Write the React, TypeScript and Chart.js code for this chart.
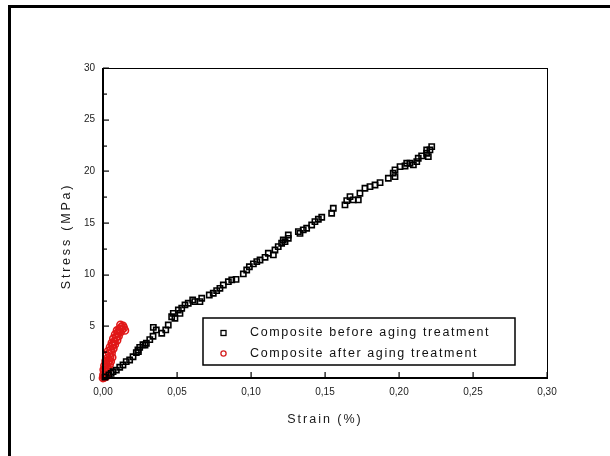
import React, { useEffect, useRef } from "react";
import { Chart, registerables } from "chart.js";

Chart.register(...registerables);

const seriesNames = ["Composite before aging treatment", "Composite after aging treatment"];
const xTickValues = [0, 0.05, 0.1, 0.15, 0.2, 0.25, 0.3];
const yTickValues = [0, 5, 10, 15, 20, 25, 30];
const xTitle = "Strain (%)";
const yTitle = "Stress (MPa)";

// Composite before aging treatment: [strain, stress]
const beforeStrain = [
  0.0014, 0.004, 0.0055, 0.0068, 0.009, 0.0113, 0.0135, 0.0157, 0.018, 0.0203, 0.0225, 0.0236, 0.0239, 0.0248,
  0.027, 0.0284, 0.0293, 0.0316, 0.0338, 0.034, 0.036, 0.0397, 0.0424, 0.0441, 0.0464, 0.0475, 0.0486, 0.0509,
  0.052, 0.0532, 0.0554, 0.0576, 0.0606, 0.062, 0.0655, 0.0667, 0.0718, 0.0745, 0.0768, 0.079, 0.0813, 0.0847,
  0.087, 0.0899, 0.0948, 0.0971, 0.0989, 0.1016, 0.1039, 0.1061, 0.1095, 0.1117, 0.1151, 0.1162, 0.1184, 0.1207,
  0.1218, 0.123, 0.1252, 0.1252, 0.132, 0.1331, 0.1353, 0.1376, 0.141, 0.1432, 0.1455, 0.1478, 0.1545, 0.1556,
  0.1635, 0.1647, 0.1669, 0.1691, 0.1725, 0.1736, 0.177, 0.1804, 0.1838, 0.1872, 0.1928, 0.1961, 0.1973, 0.1973,
  0.2007, 0.2041, 0.2052, 0.2074, 0.2097, 0.212, 0.213, 0.2153, 0.2187, 0.2187, 0.2198, 0.2209, 0.2221,
];
const beforeStress = [
  0.1, 0.3, 0.45, 0.61, 0.77, 1.04, 1.26, 1.58, 1.74, 2.06, 2.45, 2.71, 2.55, 2.97,
  3.22, 3.19, 3.36, 3.71, 4.04, 4.9, 4.65, 4.33, 4.65, 5.13, 5.93, 6.26, 5.78, 6.58,
  6.26, 6.75, 7.07, 7.23, 7.55, 7.39, 7.39, 7.72, 8.03, 8.2, 8.45, 8.68, 9.0, 9.32,
  9.49, 9.55, 10.07, 10.45, 10.77, 11.04, 11.26, 11.42, 11.68, 12.07, 11.91, 12.39, 12.71, 13.04,
  13.36, 13.19, 13.52, 13.84, 14.16, 14.0, 14.33, 14.49, 14.81, 15.13, 15.36, 15.56, 15.94, 16.43,
  16.75, 17.16, 17.55, 17.23, 17.23, 17.88, 18.36, 18.52, 18.68, 18.91, 19.33, 19.82, 20.14, 19.49,
  20.46, 20.52, 20.78, 20.78, 20.62, 20.94, 21.27, 21.49, 21.75, 22.07, 21.42, 22.07, 22.39,
];

// Composite after aging treatment
const afterStrain = [
  0.0, 0.0008, 0.0015, 0.0022, 0.0003, 0.001, 0.002, 0.0028, 0.0005, 0.0015, 0.0028, 0.0036, 0.001, 0.0022,
  0.0035, 0.0045, 0.0018, 0.004, 0.0052, 0.003, 0.0048, 0.0062, 0.0025, 0.0042, 0.0058, 0.0035, 0.0055, 0.007,
  0.0048, 0.0065, 0.008, 0.0052, 0.006, 0.0078, 0.0095, 0.0068, 0.007, 0.0088, 0.0105, 0.0082, 0.01, 0.0118,
  0.0092, 0.0095, 0.0112, 0.013, 0.0105, 0.0125, 0.014, 0.0135, 0.0118, 0.0148,
];
const afterStress = [
  0.0, 0.05, 0.1, 0.15, 0.3, 0.45, 0.6, 0.4, 0.8, 0.95, 1.05, 0.85, 1.2, 1.35,
  1.5, 1.3, 1.65, 1.75, 1.6, 1.9, 2.05, 2.0, 2.2, 2.35, 2.45, 2.6, 2.75, 2.85,
  3.0, 3.15, 3.25, 2.7, 3.4, 3.55, 3.65, 3.3, 3.8, 3.95, 4.05, 4.2, 4.35, 4.45,
  4.0, 4.6, 4.75, 4.7, 4.5, 4.95, 4.85, 5.05, 5.15, 4.6,
];

const FONT = "'Liberation Sans', Arial, sans-serif";

const decorPlugin = {
  id: "decor",
  beforeDraw(chart: any) {
    const ctx = chart.ctx;
    ctx.save();
    ctx.fillStyle = "#ffffff";
    ctx.fillRect(0, 0, chart.width, chart.height);
    ctx.fillStyle = "#000000";
    ctx.fillRect(8, 5, chart.width - 8, 3);
    ctx.fillRect(8, 5, 3, chart.height - 5);
    ctx.restore();
  },
  afterDraw(chart: any) {
    const ctx = chart.ctx;
    const a = chart.chartArea;
    const xs = chart.scales.x;
    const ys = chart.scales.y;
    ctx.save();
    ctx.fillStyle = "#000000";
    // plot box
    ctx.fillRect(a.left - 1, a.bottom - 1, a.right - a.left + 2, 2);
    ctx.fillRect(a.left - 1, a.top, 2, a.bottom - a.top);
    ctx.fillRect(a.left, a.top, a.right - a.left + 1, 1);
    ctx.fillRect(a.right, a.top, 1, a.bottom - a.top);
    // x ticks
    xTickValues.forEach((v) => {
      const px = Math.round(xs.getPixelForValue(v));
      ctx.fillRect(px - 0.5, a.bottom - 6, 1.2, 6);
    });
    // y ticks (major + minor)
    for (let v = 0; v <= 30; v += 2.5) {
      const py = Math.round(ys.getPixelForValue(v));
      const len = v % 5 === 0 ? 6 : 4;
      ctx.fillRect(a.left, py - 0.5, len, 1.2);
    }
    // axis titles
    ctx.fillStyle = "#1a1a1a";
    ctx.font = `12.5px ${FONT}`;
    (ctx as any).letterSpacing = "2px";
    ctx.textAlign = "center";
    ctx.textBaseline = "middle";
    ctx.fillText(xTitle, (a.left + a.right) / 2, 420);
    ctx.save();
    ctx.translate(67, 236);
    ctx.rotate(-Math.PI / 2);
    (ctx as any).letterSpacing = "2.8px";
    ctx.fillText(yTitle, 0, 0);
    ctx.restore();
    // legend
    const lx = 203, ly = 318, lw = 312, lh = 47;
    ctx.fillStyle = "#ffffff";
    ctx.fillRect(lx, ly, lw, lh);
    ctx.strokeStyle = "#000000";
    ctx.lineWidth = 1.5;
    ctx.strokeRect(lx, ly, lw, lh);
    ctx.lineWidth = 1.3;
    ctx.strokeStyle = "#000000";
    ctx.strokeRect(221, 330.5, 5, 5);
    ctx.strokeStyle = "#d42020";
    ctx.beginPath();
    ctx.arc(223.5, 353.5, 2.6, 0, Math.PI * 2);
    ctx.stroke();
    ctx.fillStyle = "#111111";
    ctx.font = `12.5px ${FONT}`;
    (ctx as any).letterSpacing = "1.6px";
    ctx.textAlign = "left";
    ctx.fillText(seriesNames[0], 250, 333);
    ctx.fillText(seriesNames[1], 250, 354);
    ctx.restore();
  },
};

export default function App() {
  const ref = useRef<HTMLCanvasElement | null>(null);
  useEffect(() => {
    if (!ref.current) return;
    const chart = new Chart(ref.current, {
      type: "scatter",
      data: {
        datasets: [
          {
            label: seriesNames[0],
            data: beforeStrain.map((x, i) => ({ x, y: beforeStress[i] })),
            pointStyle: "rect",
            pointRadius: 3.7,
            pointBorderWidth: 1.6,
            borderColor: "#000000",
            backgroundColor: "rgba(255,255,255,0)",
            clip: false as any,
          },
          {
            label: seriesNames[1],
            data: afterStrain.map((x, i) => ({ x, y: afterStress[i] })),
            pointStyle: "circle",
            pointRadius: 3.6,
            pointBorderWidth: 1.6,
            borderColor: "#e01818",
            backgroundColor: "rgba(255,255,255,0)",
            clip: false as any,
          },
        ],
      },
      options: {
        responsive: false,
        animation: false,
        layout: { padding: { top: 68, right: 63, left: 0, bottom: 0 } },
        plugins: { legend: { display: false }, tooltip: { enabled: false } },
        scales: {
          x: {
            type: "linear",
            min: 0,
            max: 0.3,
            afterBuildTicks: (s: any) => {
              s.ticks = xTickValues.map((v) => ({ value: v }));
            },
            afterFit: (s: any) => {
              s.height = 78;
            },
            grid: { display: false, drawTicks: false },
            border: { display: false },
            ticks: {
              padding: 8,
              color: "#222222",
              font: { family: FONT, size: 10 },
              callback: (v: any) => Number(v).toFixed(2).replace(".", ","),
            },
          },
          y: {
            type: "linear",
            min: 0,
            max: 30,
            afterBuildTicks: (s: any) => {
              s.ticks = yTickValues.map((v) => ({ value: v }));
            },
            afterFit: (s: any) => {
              s.width = 103;
            },
            grid: { display: false, drawTicks: false },
            border: { display: false },
            ticks: {
              padding: 8,
              color: "#222222",
              font: { family: FONT, size: 10 },
              callback: (v: any) => String(v),
            },
          },
        },
      },
      plugins: [decorPlugin],
    });
    return () => chart.destroy();
  }, []);
  return (
    <div style={{ position: "absolute", left: 0, top: 0, width: 610, height: 456 }}>
      <canvas ref={ref} width={610} height={456} style={{ width: 610, height: 456 }} />
    </div>
  );
}
